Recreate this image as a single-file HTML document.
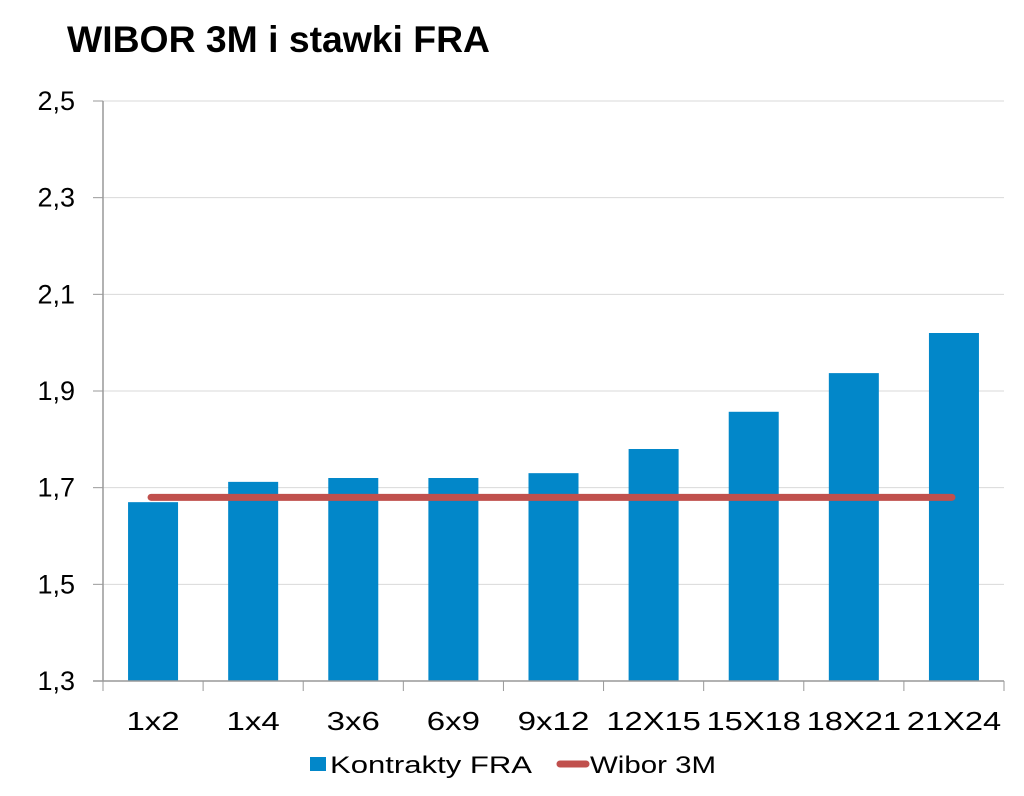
<!DOCTYPE html>
<html><head><meta charset="utf-8"><style>
html,body{margin:0;padding:0;background:#fff;}
svg text{font-family:"Liberation Sans","DejaVu Sans",sans-serif;fill:#000;}
</style></head><body>
<svg id="chart" width="1024" height="791" viewBox="0 0 1024 791" xmlns="http://www.w3.org/2000/svg">
<text x="67" y="52" font-size="37" font-weight="bold" textLength="423" lengthAdjust="spacingAndGlyphs">WIBOR 3M i stawki FRA</text>
<g id="grid"></g>
<g id="bars"></g>
<g id="axes"></g>
<g id="line"></g>
<g>
<rect x="310" y="757" width="16" height="14" fill="#0287c9"/>
<text x="330" y="773" font-size="24" textLength="202" lengthAdjust="spacingAndGlyphs">Kontrakty FRA</text>
<line x1="560" y1="764" x2="586" y2="764" stroke="#c0504d" stroke-width="7" stroke-linecap="round"/>
<text x="590" y="773" font-size="24" textLength="126" lengthAdjust="spacingAndGlyphs">Wibor 3M</text>
</g>
</svg>
<script>
const categories=["1x2","1x4","3x6","6x9","9x12","12X15","15X18","18X21","21X24"];
const fraValues=[1.67,1.712,1.72,1.72,1.73,1.78,1.857,1.937,2.02];
const wiborValues=[1.68,1.68,1.68,1.68,1.68,1.68,1.68,1.68,1.68];
const yTicks=[1.3,1.5,1.7,1.9,2.1,2.3,2.5];
const yTickLabels=["1,3","1,5","1,7","1,9","2,1","2,3","2,5"];
const NS="http://www.w3.org/2000/svg";
const L=103,R=1004,T=101,B=681,yMin=1.3,yMax=2.5;
const y=v=>B-(v-yMin)/(yMax-yMin)*(B-T);
const band=(R-L)/categories.length;
const xc=i=>L+band*(i+0.5);
function mk(tag,parent,attrs){const e=document.createElementNS(NS,tag);for(const k in attrs)e.setAttribute(k,attrs[k]);parent.appendChild(e);return e;}
const grid=document.getElementById('grid'),bars=document.getElementById('bars'),axes=document.getElementById('axes'),line=document.getElementById('line');
yTicks.forEach((t,i)=>{
  if(i>0){const g=mk('line',grid,{x1:L,x2:R,y1:y(t),y2:y(t),stroke:'#d9d9d9','stroke-width':1});
  
  }
  const tk=mk('line',axes,{x1:L-10,x2:L,y1:y(t),y2:y(t),stroke:'#999','stroke-width':1});
  
  
  const tx=mk('text',axes,{x:75,y:y(t)+9,'font-size':27,'text-anchor':'end'});
  tx.textContent=yTickLabels[i];
  
  
});
fraValues.forEach((v,i)=>{
  const r=mk('rect',bars,{x:xc(i)-25,y:y(v),width:50,height:B-y(v),fill:'#0287c9'});
  
  
});
const ya=mk('line',axes,{x1:L,x2:L,y1:T,y2:B,stroke:'#999','stroke-width':1.5});


const xa=mk('line',axes,{x1:L-10,x2:R,y1:B,y2:B,stroke:'#999','stroke-width':1.5});


const cw={'x':16,'X':20};
for(let i=0;i<=categories.length;i++){
  const tk=mk('line',axes,{x1:L+band*i,x2:L+band*i,y1:B,y2:B+10,stroke:'#999','stroke-width':1});
  
  
}
categories.forEach((c,i)=>{
  let w=0;for(const ch of c)w+=cw[ch]||18.6;
  const tx=mk('text',axes,{x:xc(i),y:730,'font-size':26,'text-anchor':'middle',textLength:w.toFixed(1),lengthAdjust:'spacingAndGlyphs'});
  tx.textContent=c;
  
  
});
const pts=wiborValues.map((v,i)=>(xc(i)-2)+','+y(v)).join(' ');
const pl=mk('polyline',line,{points:pts,fill:'none',stroke:'#c0504d','stroke-width':7,'stroke-linecap':'round','stroke-linejoin':'round'});


</script>
</body></html>
